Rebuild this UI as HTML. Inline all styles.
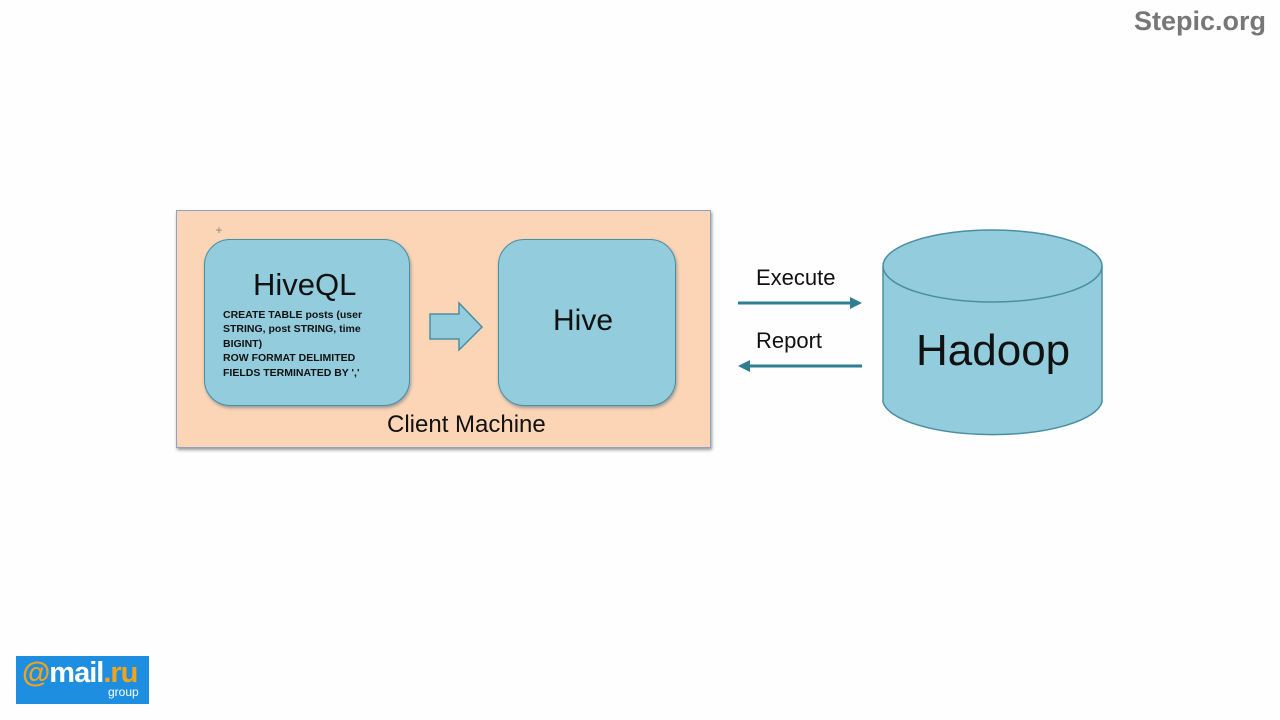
<!DOCTYPE html>
<html><head><meta charset="utf-8"><style>
body{margin:0;width:1280px;height:720px;background:#fefefe;position:relative;overflow:hidden;font-family:"Liberation Sans",sans-serif}
.a{position:absolute}
</style></head><body>
<div class="a" style="right:14px;top:6px;font-size:27px;font-weight:bold;color:#777">Stepic.org</div>
<div class="a" style="left:176px;top:210px;width:533px;height:236px;background:#fbd5b5;border:1.5px solid #8ea3c6;box-shadow:1px 2px 3px #999"></div>
<div class="a" style="left:204px;top:239px;width:204px;height:165px;background:#93cddd;border:1.5px solid #4a8ea3;border-radius:26px;box-shadow:1px 2px 3px #999"></div>
<div class="a" style="left:498px;top:239px;width:176px;height:165px;background:#93cddd;border:1.5px solid #4a8ea3;border-radius:26px;box-shadow:1px 2px 3px #999"></div>
<div class="a" style="left:253px;top:267px;font-size:31px;color:#111">HiveQL</div>
<div class="a" style="left:223px;top:308px;font-size:10.5px;font-weight:bold;line-height:14.4px;color:#111">CREATE TABLE posts (user<br>STRING, post STRING, time<br>BIGINT)<br>ROW FORMAT DELIMITED<br>FIELDS TERMINATED BY ','</div>
<div class="a" style="left:553px;top:304px;font-size:30px;color:#111">Hive</div>
<div class="a" style="left:387px;top:411px;font-size:24px;color:#111">Client Machine</div>
<svg class="a" style="left:0;top:0" width="1280" height="720">
<polygon points="430,314 459,314 459,303 482,327 459,350 459,339 430,339" fill="#93cddd" stroke="#4a8ea3" stroke-width="1.5"/>
<line x1="738" y1="303" x2="856" y2="303" stroke="#2f7f91" stroke-width="3"/>
<polygon points="862,303 850,297 850,309" fill="#2f7f91"/>
<line x1="746" y1="366" x2="862" y2="366" stroke="#2f7f91" stroke-width="3"/>
<polygon points="738,366 750,360 750,372" fill="#2f7f91"/>
<path d="M883,266 L883,402 A110,36 0 0 0 1102,402 L1102,266" fill="#93cddd" stroke="#4a8ea3" stroke-width="1.5"/>
<ellipse cx="992.5" cy="266" rx="109.5" ry="36" fill="#93cddd" stroke="#4a8ea3" stroke-width="1.5"/>
<text x="219" y="234" font-size="12" fill="#888" text-anchor="middle">+</text>
</svg>
<div class="a" style="left:756px;top:265px;font-size:22px;color:#111">Execute</div>
<div class="a" style="left:756px;top:328px;font-size:22px;color:#111">Report</div>
<div class="a" style="left:916px;top:326px;font-size:44px;color:#111">Hadoop</div>
<div class="a" style="left:16px;top:656px;width:133px;height:48px;background:#1e8fe0"></div>
<div class="a" style="left:22px;top:657px;font-size:29px;font-weight:bold;color:#fff;letter-spacing:-1px"><span style="color:#f3a21b">@</span>mail<span style="color:#f3a21b">.ru</span></div>
<div class="a" style="left:108px;top:685px;font-size:12px;color:#fff">group</div>
</body></html>
